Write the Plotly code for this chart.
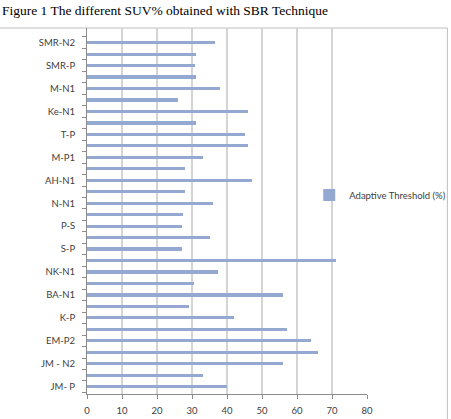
import plotly.graph_objects as go

# Categories from bottom (index 0) to top; unlabeled categories are blank
labels = ["JM- P", "", "JM - N2", "", "EM-P2", "", "K-P", "", "BA-N1", "",
          "NK-N1", "", "S-P", "", "P-S", "", "N-N1", "", "AH-N1", "",
          "M-P1", "", "T-P", "", "Ke-N1", "", "M-N1", "", "SMR-P", "", "SMR-N2"]
values = [40, 33, 56, 66, 64, 57, 42, 29, 56, 30.5,
          37.3, 71, 27, 35, 27, 27.5, 36, 28, 47, 28,
          33, 46, 45, 31, 46, 26, 38, 31, 30.8, 31, 36.5]
series_name = "Adaptive Threshold (%)"
x_ticks = [0, 10, 20, 30, 40, 50, 60, 70, 80]
title_text = "Figure 1 The different SUV% obtained with SBR Technique"

positions = list(range(len(labels)))
label_pos = [p for p, l in zip(positions, labels) if l]
label_txt = [l for l in labels if l]

W, H = 451, 419
L, R, T, B = 87, 451 - 366.7, 28, 25
pw = W - L - R
ph = H - T - B

fig = go.Figure()
fig.add_trace(go.Bar(
    x=values, y=positions, orientation="h", name=series_name,
    marker=dict(color="#93A9D1", line=dict(width=0)), width=0.28,
    showlegend=True,
))

font_family = "Lato, Liberation Sans, sans-serif"

fig.update_layout(
    width=W, height=H,
    margin=dict(l=L, r=R, t=T, b=B, pad=0, autoexpand=False),
    paper_bgcolor="white", plot_bgcolor="white",
    showlegend=True,
    legend=dict(x=(309 - L) / pw, y=(394 - 195) / ph, xanchor="left", yanchor="middle",
                bgcolor="rgba(0,0,0,0)", font=dict(family=font_family, size=9.5, color="#404040"),
                itemwidth=30),
    xaxis=dict(range=[0, 80], tickvals=x_ticks, showgrid=True, gridcolor="#D4D4D4", gridwidth=1.5,
               zeroline=False, showline=True, linecolor="#8C8C8C", linewidth=1,
               ticks="outside", ticklen=4, tickcolor="#8C8C8C",
               tickfont=dict(family=font_family, size=9.5, color="#404040"),
               ticklabelstandoff=4, fixedrange=True),
    yaxis=dict(range=[-0.64, 31.28], tickvals=label_pos, ticktext=label_txt,
               showgrid=False, zeroline=False, showline=True, linecolor="#8C8C8C", linewidth=1,
               ticks="", tickfont=dict(family=font_family, size=9.5, color="#404040"),
               ticklabelstandoff=9,
               minor=dict(tickmode="linear", tick0=-0.5, dtick=1, ticks="outside", ticklen=4,
                          tickcolor="#8C8C8C", showgrid=False),
               fixedrange=True),
    bargap=0,
)

# chart border (top and right edges visible)
fig.add_shape(type="rect", xref="paper", yref="paper",
              x0=(-5 - L) / pw, x1=(447 - L) / pw, y0=(394 - 430) / ph, y1=1.0,
              line=dict(color="#BFBFBF", width=1), fillcolor="rgba(0,0,0,0)", layer="below")

fig.add_annotation(text=title_text, xref="paper", yref="paper",
                   x=(0 - L) / pw, y=(394 - 10.5) / ph, xanchor="left", yanchor="middle",
                   showarrow=False,
                   font=dict(family="Liberation Serif, Times New Roman, serif", size=13.5, color="black"))

fig.write_html("out.html")
